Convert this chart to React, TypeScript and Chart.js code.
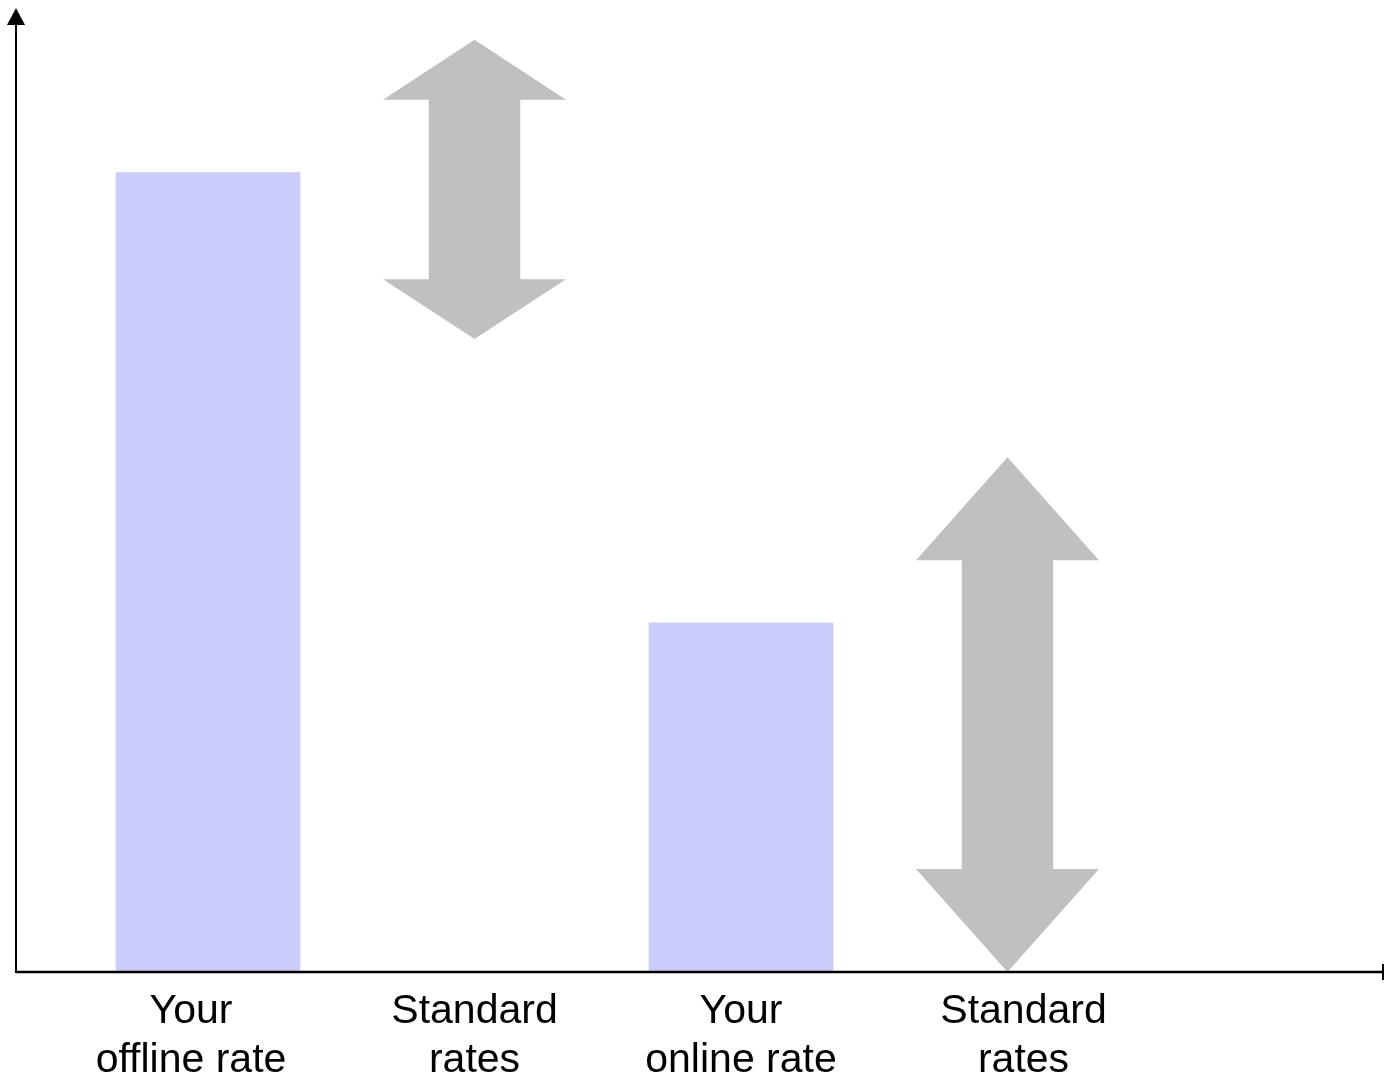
import React, { useEffect, useRef } from "react";
import { Chart, registerables } from "chart.js";

Chart.register(...registerables);

// Category labels, one entry per line of text
const categories: string[][] = [
  ["Your", "offline rate"],
  ["Standard", "rates"],
  ["Your", "online rate"],
  ["Standard", "rates"],
];

// Your own rate per slot (null where the slot shows a standard range)
const yourRates: (number | null)[] = [83.1, null, 36.3, null];

// Standard rate ranges (low / high) per slot
const standardLow: (number | null)[] = [null, 65.8, null, 0];
const standardHigh: (number | null)[] = [null, 96.9, null, 53.5];

const BAR_COLOR = "#ccccfc";
const ARROW_COLOR = "#c0c0c0";
const FONT = '"Liberation Sans", Arial, Helvetica, sans-serif';

// Draws each floating bar of the "standard" dataset as a double-headed arrow
const doubleArrowPlugin = {
  id: "doubleArrows",
  afterDatasetsDraw(chart: any, _args: any, opts: any) {
    const meta = chart.getDatasetMeta(opts.datasetIndex);
    const ctx = chart.ctx;
    ctx.save();
    ctx.fillStyle = opts.color;
    meta.data.forEach((el: any) => {
      const { x, y, base, width } = el.getProps(["x", "y", "base", "width"], true);
      if (x == null || isNaN(y)) return;
      const top = Math.min(y, base);
      const bottom = Math.max(y, base);
      const len = bottom - top;
      const head = len * opts.headRatio;
      const half = width / 2;
      const shaft = (width * opts.shaftRatio) / 2;
      ctx.beginPath();
      ctx.moveTo(x, top);
      ctx.lineTo(x + half, top + head);
      ctx.lineTo(x + shaft, top + head);
      ctx.lineTo(x + shaft, bottom - head);
      ctx.lineTo(x + half, bottom - head);
      ctx.lineTo(x, bottom);
      ctx.lineTo(x - half, bottom - head);
      ctx.lineTo(x - shaft, bottom - head);
      ctx.lineTo(x - shaft, top + head);
      ctx.lineTo(x - half, top + head);
      ctx.closePath();
      ctx.fill();
    });
    ctx.restore();
  },
};

// Axis lines with an arrow on the value axis, plus two-line category labels
const axesPlugin = {
  id: "arrowAxes",
  afterDraw(chart: any, _args: any, opts: any) {
    const { ctx, chartArea } = chart;
    const xs = chart.scales.x;
    const ys = chart.scales.y;
    const x0 = chartArea.left;
    const y0 = ys.getPixelForValue(0);
    ctx.save();
    ctx.strokeStyle = "#000";
    ctx.fillStyle = "#000";
    // horizontal axis with end tick
    ctx.lineWidth = 2.5;
    ctx.beginPath();
    ctx.moveTo(x0, y0);
    ctx.lineTo(chartArea.right - 1, y0);
    ctx.stroke();
    ctx.lineWidth = 2;
    ctx.beginPath();
    ctx.moveTo(chartArea.right - 1, y0 - 8);
    ctx.lineTo(chartArea.right - 1, y0 + 8);
    ctx.stroke();
    // vertical axis with arrowhead
    ctx.beginPath();
    ctx.moveTo(x0, y0 + 1);
    ctx.lineTo(x0, chartArea.top + 12);
    ctx.stroke();
    ctx.beginPath();
    ctx.moveTo(x0, chartArea.top - 2);
    ctx.lineTo(x0 + 9, chartArea.top + 15);
    ctx.lineTo(x0 - 9, chartArea.top + 15);
    ctx.closePath();
    ctx.fill();

    // category labels
    ctx.font = `41px ${FONT}`;
    ctx.textAlign = "center";
    ctx.textBaseline = "alphabetic";
    categories.forEach((lines, i) => {
      const cx = xs.getPixelForValue(i) + (opts.labelShift[i] || 0);
      lines.forEach((line, j) => {
        ctx.fillText(line, cx, y0 + 51 + j * 49);
      });
    });
    ctx.restore();
  },
};

export default function App() {
  const canvasRef = useRef<HTMLCanvasElement | null>(null);

  useEffect(() => {
    if (!canvasRef.current) return;
    const rateData = yourRates
      .map((v, i) => (v == null ? null : { x: i, y: v }))
      .filter(Boolean);
    const rangeData = standardLow
      .map((lo, i) =>
        lo == null || standardHigh[i] == null ? null : { x: i, y: [lo, standardHigh[i]] }
      )
      .filter(Boolean);

    const chart = new Chart(canvasRef.current, {
      type: "bar",
      data: {
        datasets: [
          {
            label: "Your rate",
            data: rateData as any,
            backgroundColor: BAR_COLOR,
            borderWidth: 0,
            grouped: false,
            barThickness: 184,
          } as any,
          {
            label: "Standard rates",
            data: rangeData as any,
            backgroundColor: "rgba(0,0,0,0)",
            borderWidth: 0,
            grouped: false,
            barThickness: 183,
          } as any,
        ],
      },
      options: {
        animation: false,
        responsive: false,
        maintainAspectRatio: false,
        layout: { padding: { left: 16, right: 0, top: 10, bottom: 106 } },
        scales: {
          x: { type: "linear", display: false, offset: false, min: -0.7205, max: 4.4128 },
          y: { type: "linear", display: false, min: 0, max: 100 },
        },
        plugins: {
          legend: { display: false },
          tooltip: { enabled: false },
          doubleArrows: { datasetIndex: 1, color: ARROW_COLOR, headRatio: 0.2, shaftRatio: 0.5 },
          arrowAxes: { labelShift: [-17, 0, 0, 16] },
        } as any,
      },
      plugins: [doubleArrowPlugin, axesPlugin],
    });
    return () => chart.destroy();
  }, []);

  return (
    <div style={{ position: "fixed", left: 0, top: 0, width: 1384, height: 1078, background: "#fff" }}>
      <canvas ref={canvasRef} width={1384} height={1078} style={{ display: "block" }} />
    </div>
  );
}
